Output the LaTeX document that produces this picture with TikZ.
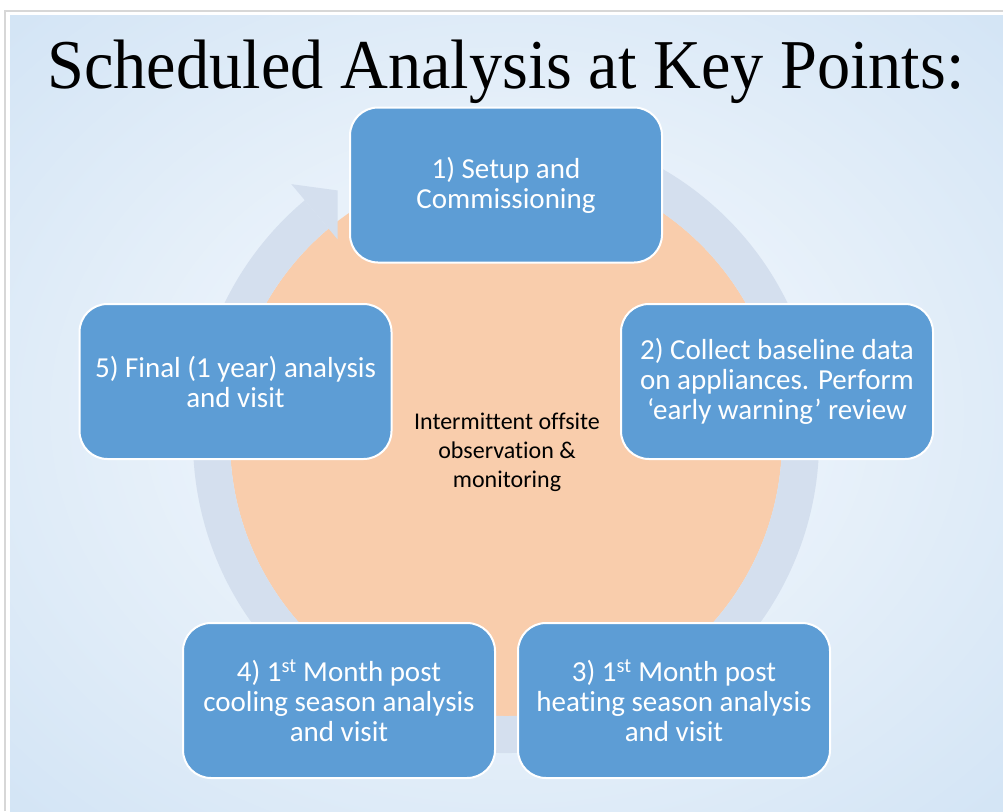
\documentclass[tikz,border=0pt]{standalone}
\usepackage{fontspec}
\setmainfont{Liberation Serif}
\newfontfamily\boxfont[Ligatures={NoCommon}]{Carlito}
\definecolor{bgin}{RGB}{232,241,250}
\definecolor{bgmid}{RGB}{202,223,243}
\definecolor{bgout}{RGB}{176,208,237}
\definecolor{ringc}{RGB}{212,223,238}
\definecolor{orangec}{RGB}{249,205,172}
\definecolor{boxblue}{RGB}{93,157,213}
\definecolor{framegray}{RGB}{215,215,215}
\pgfdeclareradialshading{slidebg}{\pgfpoint{0bp}{0bp}}{color(0bp)=(bgin); color(16bp)=(bgin); color(44bp)=(bgmid); color(66bp)=(bgout); color(80bp)=(bgout)}
\tikzset{
  stepbox/.style={draw=white, line width=2pt, fill=boxblue, rounded corners=28pt,
    minimum width=312pt, minimum height=155pt, text=white, align=center,
    font=\boxfont\fontsize{29}{30}\selectfont},
  midtext/.style={align=center, text=black, font=\boxfont\fontsize{24}{29}\selectfont},
  titletext/.style={anchor=base, text=black, font=\fontsize{70}{80}\selectfont, inner sep=0pt}
}
\begin{document}
\begin{tikzpicture}[x=1pt,y=-1pt]
\useasboundingbox (0,0) rectangle (1003,811);
\fill[white] (0,0) rectangle (1003,811);
\draw[framegray, line width=1.5pt] (5,811) -- (5,11) -- (1003,11);
\shade[shading=slidebg] (10,15) rectangle (1003,811);
\begin{scope}[shift={(506,440)}, yscale=-1]
  \fill[orangec] (0,0) circle[radius=276];
  \fill[ringc] (130:276) arc[start angle=130, end angle=460, radius=276]
     -- (460:313) arc[start angle=460, end angle=130, radius=313] -- cycle;
  \fill[ringc] (130:262) -- (130:334) -- (124:301) -- cycle;
\end{scope}
\node[titletext] (title) at (506,88) {\scalebox{0.947}[1]{Scheduled Analysis at Key Points:}};
\node[stepbox] (s1) at (506,185) {1) Setup and\\Commissioning};
\node[stepbox] (s2) at (777,381.5) {2) Collect baseline data\\on appliances. Perform\\‘early warning’ review};
\node[stepbox] (s3) at (674,700.5) {3) 1\textsuperscript{st} Month post\\heating season analysis\\and visit};
\node[stepbox] (s4) at (339,700.5) {4) 1\textsuperscript{st} Month post\\cooling season analysis\\and visit};
\node[stepbox] (s5) at (235.5,381.5) {5) Final (1 year) analysis\\and visit};
\node[midtext] (mid) at (507,452) {Intermittent offsite\\observation \&\\monitoring};
\end{tikzpicture}
\end{document}
